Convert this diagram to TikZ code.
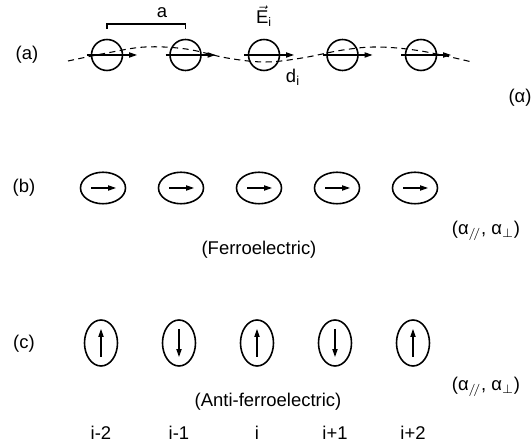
\documentclass[tikz,border=0pt]{standalone}
\usepackage{fontspec}
\setmainfont{Liberation Sans}
\usetikzlibrary{positioning, arrows.meta, shapes.geometric}

\begin{document}
\begin{tikzpicture}[x=0.02cm, y=-0.02cm, font=\fontsize{10.5}{12}\selectfont,
    arr/.style={-{Triangle[length=4.5pt,width=3pt]}, line width=0.6pt},
    site/.style={draw, line width=0.9pt, inner sep=0pt}]
    \useasboundingbox (0,0) rectangle (532,445);

    % (a) dipoles on a chain
    \node (la) at (27,55) {(a)};
    \foreach \i in {1,...,5}{
      \node[site, circle, minimum size=0.62cm] (a\i) at ({107+78.5*(\i-1)},55) {};
      \draw[arr] (a\i.center) ++(-20,0) -- ++(50,0);
    }
    \draw[dashed, dash pattern=on 3.5pt off 2.5pt, line width=0.6pt]
      plot[smooth, tension=0.6] coordinates {(68,61) (107,53) (145,47) (186,49)
      (227,58) (265,62) (302,58) (343,50) (378,47) (421,51) (472,62)};
    \coordinate (s1) at (a1.center |- 0,29);
    \coordinate (s2) at (a2.center |- 0,29);
    \draw[line width=0.6pt] (s1) -- ++(0,-5) coordinate (s1t) -- (s2 |- s1t) -- (s2);
    \node[above=0pt of s1t, xshift=1.1cm] (spc) {a};
    \node[inner sep=1pt] (efield) at (264,16) {$\vec{\mbox{E}}_{\mbox{\scriptsize i}}$};
    \node (dip) at (293,77) {d\textsubscript{i}};
    \node (alpha) at (520,98) {(α)};

    % (b) ferroelectric
    \node (lb) at (24,188) {(b)};
    \foreach \i in {1,...,5}{
      \node[site, ellipse, minimum width=0.9cm, minimum height=0.63cm] (b\i) at ({103+78*(\i-1)},188) {};
      \draw[arr] (b\i.center) ++(-12,0) -- ++(25,0);
    }
    \node (ferro) at (259,250) {(Ferroelectric)};
    \node (pol1) at (486,231) {(α$_{/\!/}$, α$_\perp$)};

    % (c) anti-ferroelectric
    \node (lc) at (24,344) {(c)};
    \foreach \i/\d in {1/1,2/-1,3/1,4/-1,5/1}{
      \node[site, ellipse, minimum width=0.66cm, minimum height=0.92cm] (c\i) at ({101+78*(\i-1)},343) {};
      \draw[arr] (c\i.center) ++(0,14*\d) -- ++(0,-28*\d);
    }
    \node (anti) at (268,402) {(Anti-ferroelectric)};
    \node (pol2) at (486,387) {(α$_{/\!/}$, α$_\perp$)};
    \foreach \i/\t in {1/i-2,2/i-1,3/i,4/i+1,5/i+2}
      \node (n\i) at (c\i |- 0,433) {\t};
\end{tikzpicture}
\end{document}
